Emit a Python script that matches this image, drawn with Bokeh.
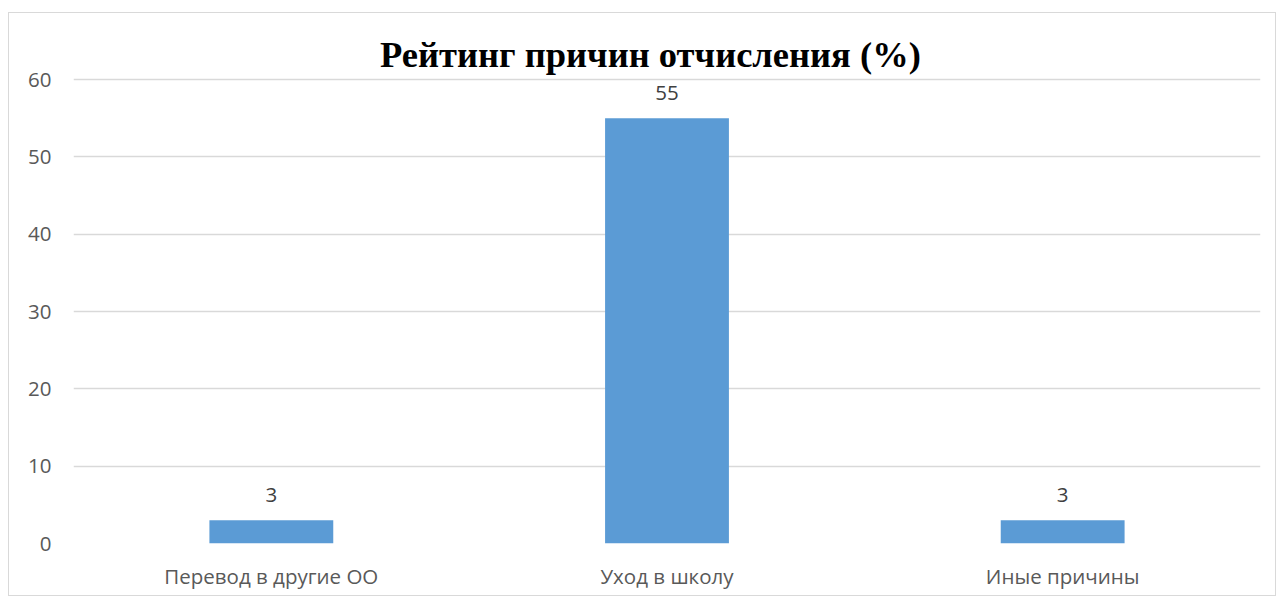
from bokeh.plotting import figure
from bokeh.models import Range1d, FactorRange, ColumnDataSource, FixedTicker
from bokeh.core.properties import value
from bokeh.embed import file_html
from bokeh.resources import INLINE

categories = ["Перевод в другие ОО", "Уход в школу", "Иные причины"]
values = [3, 55, 3]
labels = ["3", "55", "3"]
title_text = "Рейтинг причин отчисления (%)"
y_ticks = [0, 10, 20, 30, 40, 50, 60]

W, H = 1268, 584
p = figure(width=W, height=H, x_range=FactorRange(*categories, range_padding=0),
           y_range=Range1d(0, 67.63), output_backend="svg", toolbar_location=None,
           min_border_left=64, min_border_right=17, min_border_top=7, min_border_bottom=54)
p.styles = {"border": "1px solid #d9d9d9", "margin-left": "8px", "margin-top": "12px"}
p.outline_line_color = None
p.background_fill_color = "white"
p.border_fill_color = "white"

src = ColumnDataSource(dict(cat=categories, val=values, lab=labels))
p.vbar(x="cat", top="val", width=0.313, source=src, fill_color="#5B9BD5", line_color=None)
p.text(x="cat", y="val", text="lab", source=src, text_align="center", text_baseline="alphabetic",
       y_offset=-25, text_font=value("Open Sans"), text_font_size="20.5px", text_color="#404040")

p.text(x=[1.458], y=[63.18], text=[title_text], text_align="center", text_baseline="alphabetic",
       text_font=value("Liberation Serif"), text_font_style="bold", text_font_size="36.5px",
       text_color="black")

p.yaxis.ticker = FixedTicker(ticks=y_ticks)
p.ygrid.ticker = FixedTicker(ticks=y_ticks)
p.ygrid.grid_line_color = "#d9d9d9"
p.ygrid.grid_line_width = 1.5
p.xgrid.grid_line_color = None
for ax in (p.xaxis, p.yaxis):
    ax.axis_line_color = None
    ax.major_tick_line_color = None
    ax.minor_tick_line_color = None
    ax.major_label_text_font = "Open Sans"
    ax.major_label_text_font_size = "20.5px"
    ax.major_label_text_color = "#595959"
p.yaxis.major_label_standoff = 16
p.xaxis.major_label_standoff = 12

open("out.html", "w").write(file_html(p, INLINE))
